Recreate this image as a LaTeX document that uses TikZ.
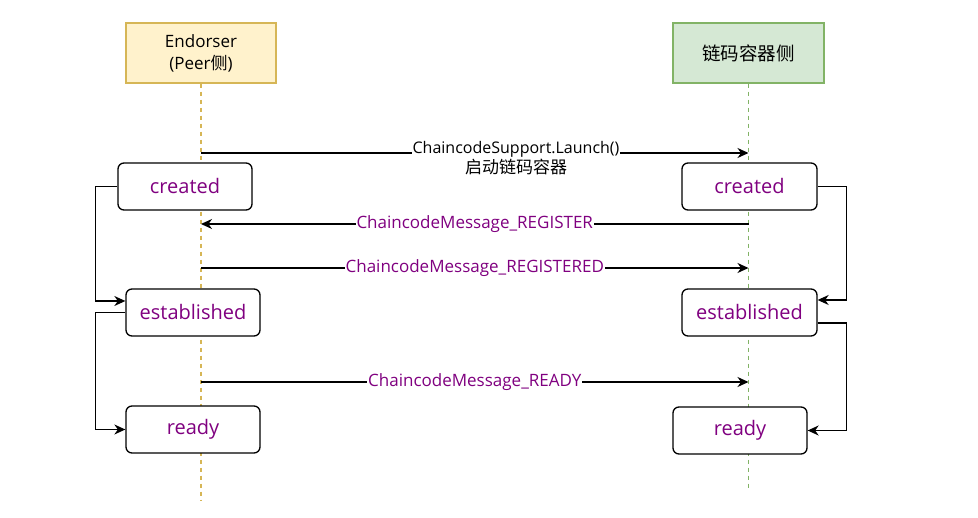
\documentclass[tikz,border=0pt]{standalone}
\usepackage{fontspec}
\setmainfont{Open Sans}
\newfontfamily\cjk{Noto Sans CJK SC}
\usepackage{tikz}
\usetikzlibrary{arrows.meta}
\definecolor{msgpurple}{rgb}{0.5,0,0.5}
\definecolor{peerfill}{RGB}{255,242,204}
\definecolor{peerdraw}{RGB}{214,182,86}
\definecolor{ccfill}{RGB}{213,232,212}
\definecolor{ccdraw}{RGB}{130,179,102}
\tikzset{
  lanehead/.style = {rectangle, align=center, inner sep=0pt, line width=1.3pt,
    minimum width=150pt, minimum height=60pt, font=\fontsize{17}{22}\selectfont},
  lane_p/.style = {lanehead, fill=peerfill, draw=peerdraw},% Endorser, peer side
  lane_c/.style = {lanehead, fill=ccfill, draw=ccdraw},% chaincode container side
  lifeline/.style = {line width=1.3pt, dash pattern=on 4pt off 4pt},
  stbox/.style = {rectangle, rounded corners=6pt, draw=black, fill=white,
    line width=1.3pt, minimum width=134pt, minimum height=47pt, inner sep=0pt,
    text=msgpurple, font=\fontsize{20}{24}\selectfont},% state box
  msg/.style = {fill=white, inner sep=1pt, text=msgpurple,
    font=\fontsize{17}{20}\selectfont}% message label
}
\begin{document}
\begin{tikzpicture}[x=1pt,y=-1pt,->,>={Stealth[length=11pt,width=10pt,inset=3.5pt]},
  line width=1.3pt]
\useasboundingbox (0,0) rectangle (978,518);
% lanes
\node [lane_p] (hdr_p) at (201,53) {Endorser\\(Peer{\cjk 侧})};
\node [lane_c, minimum width=151pt] (hdr_c) at (748.5,53) {{\cjk\fontsize{18.5}{22}\selectfont 链码容器侧}};
\coordinate (end_p) at (201,500);
\coordinate (end_c) at (748.5,490);
\draw [-, lifeline, draw=peerdraw] (hdr_p.south) -- (end_p);
\draw [-, lifeline, draw=ccdraw] (hdr_c.south) -- (end_c);
% states
\node [stbox] (cr_p) at (185,186.5) {created};
\node [stbox] (es_p) at (193,312.5) {established};
\node [stbox] (rd_p) at (193,429.5) {ready};
\node [stbox, minimum width=135pt] (cr_c) at (749.5,186.5) {created};
\node [stbox, minimum width=135pt] (es_c) at (749.5,312.5) {established};
\node [stbox] (rd_c) at (740,430.5) {ready};
% messages
\coordinate (lp1) at (201,153);  \coordinate (lc1) at (748.5,153);
\coordinate (lp2) at (201,224);  \coordinate (lc2) at (748.5,224);
\coordinate (lp3) at (201,268);  \coordinate (lc3) at (748.5,268);
\coordinate (lp4) at (201,382);  \coordinate (lc4) at (748.5,382);
\draw (lp1) -- (lc1);
\node [msg, text=black, align=center, font=\fontsize{16}{20}\selectfont] (launch)
  at (516,158) {ChaincodeSupport.Launch()\\{\cjk\fontsize{17}{20}\selectfont 启动链码容器}};
\draw (lc2) -- node [msg] (reg) {ChaincodeMessage\_REGISTER} (lp2);
\draw (lp3) -- node [msg] (regd) {ChaincodeMessage\_REGISTERED} (lc3);
\draw (lp4) -- node [msg] (rdy) {ChaincodeMessage\_READY} (lc4);
% transitions
\draw (cr_p.west) -- ++(-22,0) |- ([yshift=11.5pt]es_p.west);
\draw (es_p.west) -- ++(-30,0) |- (rd_p.west);
\draw (cr_c.east) -- ++(29,0) |- ([yshift=12.5pt]es_c.east);
\draw ([yshift=-10.5pt]es_c.east) -- ++(29,0) |- (rd_c.east);
\end{tikzpicture}
\end{document}
